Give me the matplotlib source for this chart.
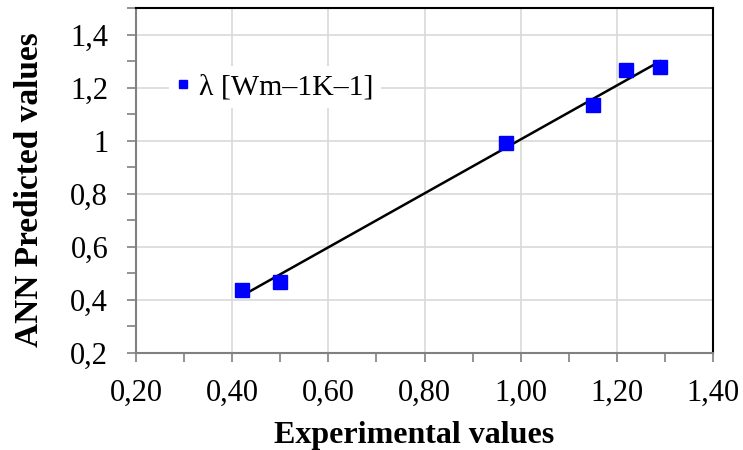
import matplotlib
matplotlib.use("Agg")
import matplotlib.pyplot as plt
import numpy as np
from matplotlib.ticker import MultipleLocator

plt.rcParams['font.family'] = ['Liberation Serif', 'DejaVu Serif']

exp_vals = [0.42, 0.50, 0.97, 1.15, 1.22, 1.29]
ann_vals = [0.437, 0.467, 0.99, 1.133, 1.268, 1.276]
xticks = [0.2, 0.4, 0.6, 0.8, 1.0, 1.2, 1.4]
xticklabels = ['0,20', '0,40', '0,60', '0,80', '1,00', '1,20', '1,40']
yticks = [0.2, 0.4, 0.6, 0.8, 1.0, 1.2, 1.4]
yticklabels = ['0,2', '0,4', '0,6', '0,8', '1', '1,2', '1,4']
series_label = 'λ [Wm–1K–1]'

fig = plt.figure(figsize=(7.43, 4.5), dpi=100)
ax = fig.add_axes([136/743, 1-353/450, (713-136)/743, (353-8)/450])

ax.set_xlim(0.2, 1.4)
ax.set_ylim(0.2, 1.5)
ax.set_xticks(xticks)
ax.set_xticklabels(xticklabels)
ax.set_yticks(yticks)
ax.set_yticklabels(yticklabels)
ax.xaxis.set_minor_locator(MultipleLocator(0.1))
ax.yaxis.set_minor_locator(MultipleLocator(0.1))
ax.grid(True, which='major', color='#d9d9d9', linewidth=1.2, zorder=0)
ax.set_axisbelow(True)

for s in ['left', 'bottom']:
    ax.spines[s].set_color('#808080')
    ax.spines[s].set_linewidth(1.5)
for s in ['top', 'right']:
    ax.spines[s].set_color('black')
    ax.spines[s].set_linewidth(1.5)

ax.tick_params(axis='both', which='both', direction='out', length=6.5, width=1.2,
               color='#808080', labelsize=22)
ax.tick_params(axis='y', which='major', pad=13.5)
ax.tick_params(axis='x', which='major', pad=12)

m, b = np.polyfit(exp_vals, ann_vals, 1)
xs = np.array([min(exp_vals), max(exp_vals)])
ax.plot(xs, m*xs + b, color='black', linewidth=1.8, zorder=2)
ax.plot(exp_vals, ann_vals, linestyle='none', marker='s', markersize=9.5,
        color='#0000ff', label=series_label, zorder=3)

leg = ax.legend(loc='upper left', bbox_to_anchor=(0.032, 0.875), frameon=True,
                fancybox=False, edgecolor='none', facecolor='white', framealpha=1,
                fontsize=21.5, handlelength=0.4, handletextpad=0.35, markerscale=0.6,
                borderpad=0.25)

fig.text(414.5/743, 1-436/450, 'Experimental values', fontsize=23,
         fontweight='bold', ha='center', va='center')
fig.text(30/743, 1-190/450, 'ANN Predicted values', fontsize=24,
         fontweight='bold', ha='center', va='center', rotation=90)

fig.savefig('out.png', dpi=100)
